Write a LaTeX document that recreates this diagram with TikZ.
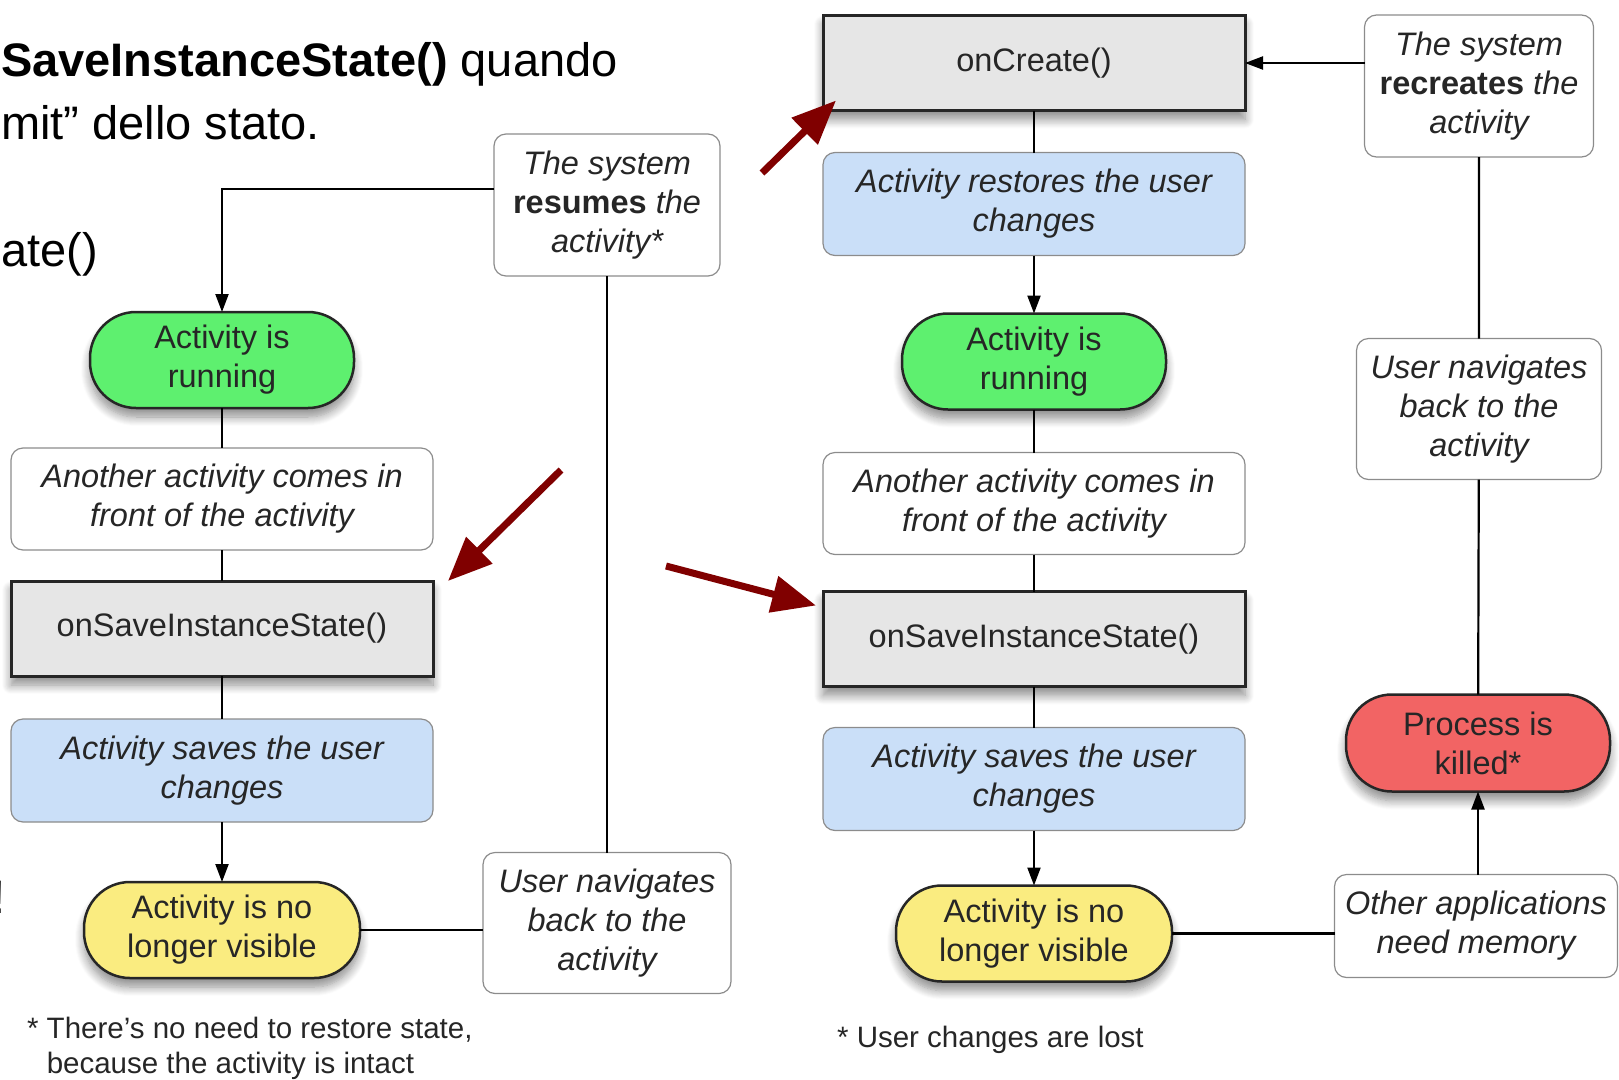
\documentclass[tikz,border=0pt]{standalone}
\usepackage{fontspec}
\setmainfont{Liberation Sans}
\usetikzlibrary{positioning,arrows.meta,shadows.blur}

\definecolor{methgray}{HTML}{E6E6E6}
\definecolor{rungreen}{HTML}{5EF06F}
\definecolor{stopyellow}{HTML}{FAEC80}
\definecolor{killred}{HTML}{F26464}
\definecolor{saveblue}{HTML}{CADFF8}
\definecolor{boxline}{HTML}{8C8C8C}
\definecolor{hintred}{HTML}{800000}

\newcommand{\boxfont}{\fontsize{32.5}{39}\selectfont}

\tikzset{
  title/.style={font=\fontsize{47}{58}\selectfont, inner sep=0pt},
  note/.style={font=\fontsize{29.5}{35.5}\selectfont, align=left, inner sep=0pt, text=black!85},
  lbl/.style={font=\boxfont, align=center, text=black!85, inner sep=0pt, outer sep=0pt},
  shade/.style={blur shadow={shadow xshift=0pt, shadow yshift=-9pt, shadow blur radius=9pt, shadow opacity=45, shadow blur steps=10}},
  method/.style={lbl, draw=black!85, line width=3pt, fill=methgray, minimum width=422pt, minimum height=95pt, shade},
  pill/.style={lbl, draw=black!85, line width=2.5pt, fill=#1, rounded corners=46pt, minimum width=264pt, minimum height=96pt, shade},
  event/.style={lbl, font=\boxfont\itshape, draw=boxline, line width=1.2pt, fill=white, rounded corners=12pt, minimum width=422pt, minimum height=102pt},
  saved/.style={event, fill=saveblue, minimum height=103pt},
  hint/.style={draw=hintred, line width=7pt, -{Triangle[length=44pt,width=36pt]}}
}

\begin{document}
\begin{tikzpicture}[x=1pt,y=-1pt,>={Triangle[length=18pt,width=13pt]},line width=2.2pt]
\useasboundingbox (0,0) rectangle (1619,1079);

% slide text cut at the left edge
\node[title,anchor=base west] (title1) at (0,76) {\textbf{SaveInstanceState()} quando};
\node[title,anchor=base west] (title2) at (0,139) {mit” dello stato.};
\node[title,anchor=base west] (title3) at (0,266) {ate()};
\node[title,anchor=base east] (bang) at (6.5,913) {!};

% activity is resumed
\node[pill=rungreen] (lrun) at (222,360) {Activity is\\running};
\node[event,below=40pt of lrun] (lfront) {Another activity comes in\\front of the activity};
\node[method,below=31pt of lfront] (lsave) {onSaveInstanceState()};
\node[saved,below=43pt of lsave] (lsaves) {Activity saves the user\\changes};
\node[pill=stopyellow,minimum width=276pt,below=60pt of lsaves] (lstop) {Activity is no\\longer visible};
\node[event,minimum width=226pt,minimum height=142pt] (resume) at (607,205) {The system\\\textup{\textbf{resumes}} the\\activity*};
\node[event,minimum width=248pt,minimum height=141pt] (lback) at (607,923) {User navigates\\back to the\\activity};
\node[note,anchor=north west] (lnote) at (26,1016) {* There's no need to restore state,\\\phantom{*} because the activity is intact};

\draw[->] ([yshift=16pt]resume.west) -| (lrun.north);
\draw (lrun) -- (lfront) (lfront) -- (lsave) (lsave) -- (lsaves);
\draw[->] (lsaves) -- (lstop);
\draw (resume) -- (lback);
\draw (lstop.east) -- (lstop.east -| lback.west);

% activity is recreated
\node[method] (create) at (1034,63) {onCreate()};
\node[saved,below=42pt of create] (restore) {Activity restores the user\\changes};
\node[pill=rungreen,below=58pt of restore] (rrun) {Activity is\\running};
\node[event,below=43pt of rrun] (rfront) {Another activity comes in\\front of the activity};
\node[method,below=37pt of rfront] (rsave) {onSaveInstanceState()};
\node[saved,below=41pt of rsave] (rsaves) {Activity saves the user\\changes};
\node[pill=stopyellow,minimum width=276pt,below=55pt of rsaves] (rstop) {Activity is no\\longer visible};
\node[event,minimum width=229pt,minimum height=142pt] (recreate) at (1479,86) {The system\\\textup{\textbf{recreates}} the\\activity};
\node[event,minimum width=245pt,minimum height=141pt] (rback) at (1479,409) {User navigates\\back to the\\activity};
\node[pill=killred,minimum height=97pt] (killed) at (1478,743) {Process is\\killed*};
\node[event,minimum width=283pt,minimum height=103pt] (memory) at (1476,926) {Other applications\\need memory};
\node[note,anchor=north west] (rnote) at (836,1025) {* User changes are lost};

\draw[->] (recreate.west |- create.east) -- (create.east);
\draw (create) -- (restore);
\draw[->] (restore) -- (rrun);
\draw (rrun) -- (rfront) (rfront) -- (rsave) (rsave) -- (rsaves);
\draw[->] (rsaves) -- (rstop);
\draw (rstop.east) -- (rstop.east -| memory.west);
\draw[->] (memory.north -| killed.south) -- (killed.south);
\draw (killed) -- (rback) (rback) -- (recreate);

% red pointers
\coordinate (h1) at (762,173);
\coordinate (h2) at (561,470);
\coordinate (h3) at (666,566);
\draw[hint] (h1) -- ([shift={(13pt,10pt)}]create.south west);
\draw[hint] (h2) -- ([shift={(15pt,0pt)}]lsave.north east);
\draw[hint] (h3) -- ([shift={(-7pt,-14pt)}]rsave.north west);
\end{tikzpicture}
\end{document}
